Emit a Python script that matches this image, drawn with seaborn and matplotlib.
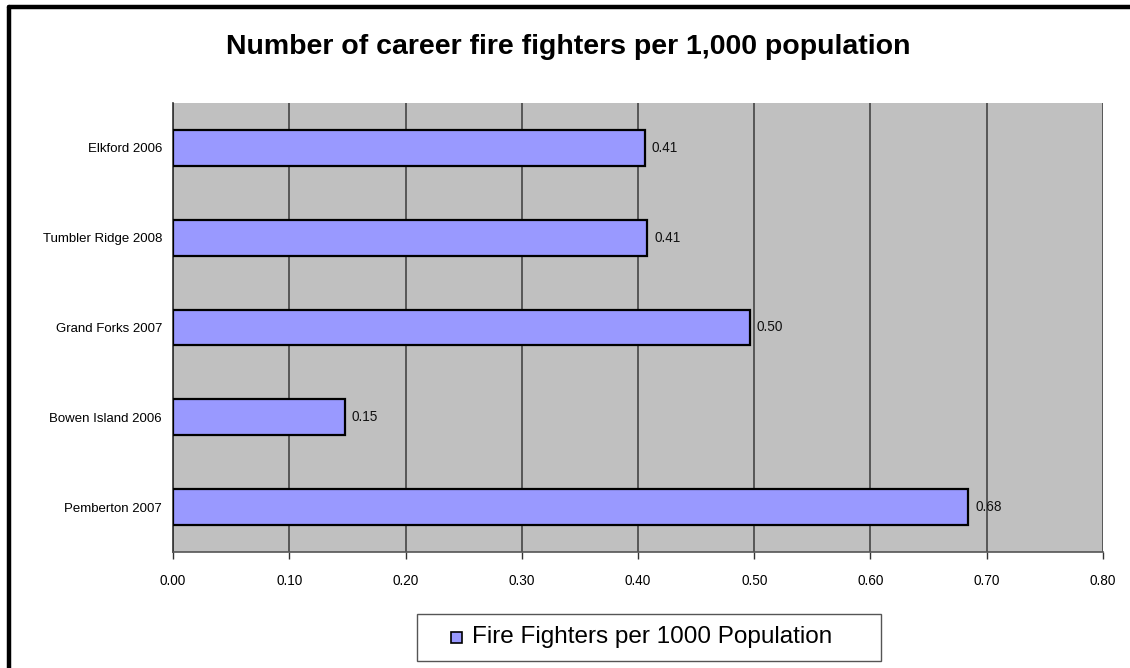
import matplotlib
matplotlib.use("Agg")
import matplotlib.pyplot as plt
from matplotlib.patches import Rectangle
from matplotlib.lines import Line2D
import seaborn as sns
import pandas as pd
import numpy as np

# Data
communities = ["Elkford 2006", "Tumbler Ridge 2008", "Grand Forks 2007",
               "Bowen Island 2006", "Pemberton 2007"]
firefighters_per_1000 = [0.406, 0.408, 0.496, 0.148, 0.684]
x_ticks = [0.0, 0.1, 0.2, 0.3, 0.4, 0.5, 0.6, 0.7, 0.8]
title = "Number of career fire fighters per 1,000 population"
series_name = "Fire Fighters per 1000 Population"

df = pd.DataFrame({"community": communities, "value": firefighters_per_1000})

sns.set_theme(style="white")
plt.rcParams["font.family"] = ["Liberation Sans", "DejaVu Sans"]
for key in ["text.color", "axes.labelcolor", "xtick.color", "ytick.color"]:
    plt.rcParams[key] = "black"

W, H = 1130, 668
bar_color = "#9999FF"
fig = plt.figure(figsize=(W / 100, H / 100), dpi=100)
ax = fig.add_axes([173 / W, 1 - 552 / H, 930 / W, 449 / H])
ax.set_facecolor("#C0C0C0")

sns.barplot(data=df, x="value", y="community", orient="h", color=bar_color,
            edgecolor="black", linewidth=1.6, width=0.4, saturation=1,
            ax=ax, zorder=3)

ax.set_xlim(0, 0.8)
ax.set_ylim(4.5, -0.5)
ax.set_xticks(x_ticks)
ax.set_xticklabels([f"{t:.2f}" for t in x_ticks], fontsize=9.8)
ax.set_xlabel("")
ax.set_ylabel("")
ax.tick_params(axis="y", which="major", length=0, labelsize=9.5, pad=8)
ax.set_yticks(np.arange(-0.5, 5.0, 1.0), minor=True)
ax.tick_params(axis="y", which="minor", length=5, width=1, color="#333333", direction="out")
ax.tick_params(axis="x", which="major", length=5, width=1, color="#333333",
               direction="out", pad=11, bottom=True)

ax.grid(axis="x", color="#454545", linewidth=1.2, zorder=1)
ax.set_axisbelow(True)

for side in ["top", "right"]:
    ax.spines[side].set_visible(False)
ax.spines["left"].set_color("#333333")
ax.spines["left"].set_linewidth(1.2)
ax.spines["bottom"].set_color("#555555")
ax.spines["bottom"].set_linewidth(1.2)

for container in ax.containers:
    ax.bar_label(container, fmt="%.2f", padding=5, fontsize=9.8, color="#111111")

fig.text(568 / W, 1 - 47 / H, title, ha="center", va="center",
         fontsize=20.5, fontweight="bold")

# Legend box below the plot area
fig.add_artist(Rectangle((417 / W, 1 - 661 / H), 464 / W, 47 / H,
                         transform=fig.transFigure, facecolor="white",
                         edgecolor="#555555", linewidth=1.0))
fig.add_artist(Rectangle((451 / W, 1 - 643 / H), 11 / W, 11 / H,
                         transform=fig.transFigure, facecolor=bar_color,
                         edgecolor="black", linewidth=1.2))
fig.text(472 / W, 1 - 637 / H, series_name, ha="left", va="center", fontsize=17.5)

# Outer frame lines (top and left edges)
fig.add_artist(Line2D([9 / W, 1.0], [1 - 7 / H, 1 - 7 / H],
                      transform=fig.transFigure, color="black", linewidth=3.2))
fig.add_artist(Line2D([9 / W, 9 / W], [0.0, 1 - 7 / H],
                      transform=fig.transFigure, color="black", linewidth=3.2))

fig.savefig("out.png", dpi=100)
